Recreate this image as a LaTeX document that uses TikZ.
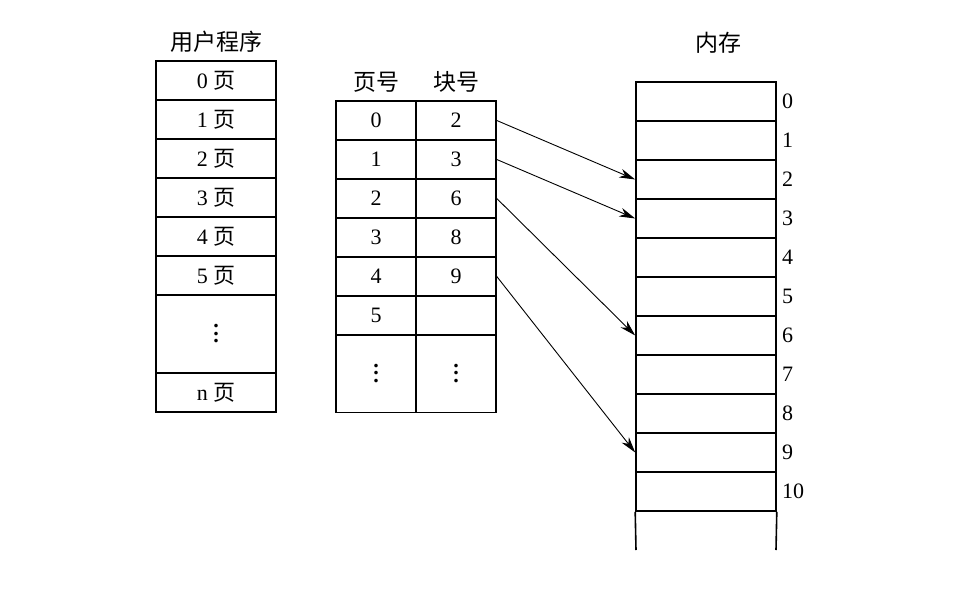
\documentclass[tikz,border=0pt]{standalone}
\usepackage{fontspec}
\setmainfont{Liberation Serif}
\newfontfamily\cjk{Noto Sans CJK SC}
\usetikzlibrary{arrows.meta,positioning}
\newcommand{\coldots}{\vbox{\baselineskip=7.5pt \lineskiplimit=0pt
  \hbox{\bfseries .}\hbox{\bfseries .}\hbox{\bfseries .}}}

\begin{document}
\begin{tikzpicture}[
  x=1pt, y=-1pt,
  >={Stealth[length=16pt,width=9pt,inset=5pt]},
  every node/.style={font=\fontsize{22}{26}\selectfont, inner sep=0pt},
  cell/.style={draw, line width=1.6pt, minimum height=39pt},
  ucell/.style={cell, minimum width=120pt},
  tcell/.style={cell, minimum width=80pt},
  mcell/.style={cell, minimum width=140pt},
  title/.style={font=\fontsize{23}{26}\selectfont\cjk},
  link/.style={->, line width=0.9pt},
]
\useasboundingbox (0,0) rectangle (967,589);

% user program
\node[title] (utitle) at (216,42) {用户程序};
\foreach \i in {0,...,5}
  \node[ucell] (u\i) at (216,80.5+39*\i) {\i\ {\cjk 页}};
\node[ucell, minimum height=78pt] (u6) at (216,334) {\coldots};
\node[ucell] (un) at (216,392.5) {n {\cjk 页}};

% page table
\node[title] (ptitle) at (376,82) {页号};
\node[title] (btitle) at (456,82) {块号};
\foreach \i/\b in {0/2,1/3,2/6,3/8,4/9,5/{}} {
  \node[tcell] (p\i) at (376,120.5+39*\i) {\i};
  \node[tcell] (b\i) at (456,120.5+39*\i) {\b};
}
\node[tcell, minimum height=78pt] (p6) at (376,373.5) {\coldots};
\node[tcell, minimum height=78pt] (b6) at (456,373.5) {\coldots};

% memory
\node[title] (mtitle) at (718,43) {内存};
\foreach \i in {0,...,10} {
  \node[mcell] (m\i) at (706,101.5+39*\i) {};
  \node[anchor=west, xshift=5pt] (l\i) at (m\i.east) {\i};
}
\coordinate (mbl) at (636,550);
\coordinate (mbr) at (776,550);
\draw[line width=1.6pt] (m10.south west) -- (mbl);
\draw[line width=1.6pt] (m10.south east) -- (mbr);

\draw[link] (b0.east) -- (m2.west);
\draw[link] (b1.east) -- (m3.west);
\draw[link] (b2.east) -- (m6.west);
\draw[link] (b4.east) -- (m9.west);
\end{tikzpicture}
\end{document}
